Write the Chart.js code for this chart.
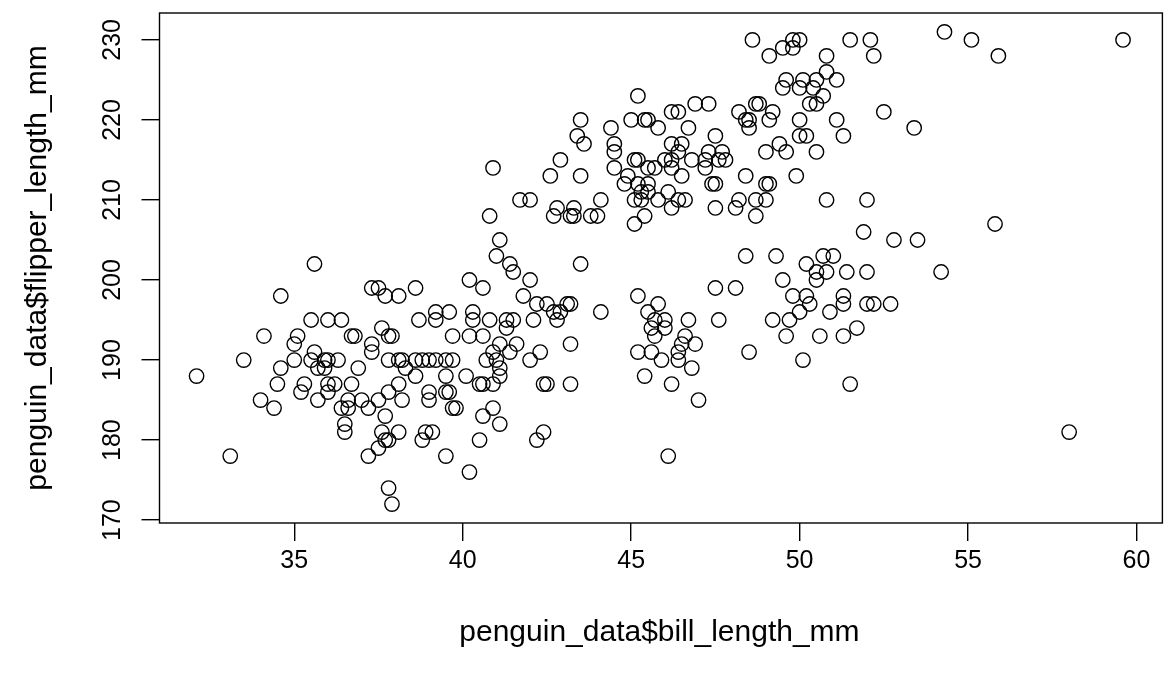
<!DOCTYPE html>
<html>
<head>
<meta charset="utf-8">
<script src="https://cdn.jsdelivr.net/npm/chart.js@4"></script>
<style>
  html, body { margin: 0; padding: 0; background: #fff; }
  #wrap { width: 1168px; height: 675px; }
</style>
</head>
<body>
<div id="wrap"><canvas id="myChart" width="1168" height="675"></canvas></div>
<script>
// values (bill length mm, flipper length mm)
var billLength = [
  35.6,34.6,35.5,34.1,35.1,35.0,33.5,35.0,35.5,34.6,32.1,34.5,35.3,35.2,34.0,34.4,33.1,
  37.3,37.5,37.7,38.1,38.6,36.0,36.4,37.6,36.7,36.8,37.8,37.9,37.3,38.7,39.2,39.6,39.2,39.7,35.6,37.3,
  35.9,36.0,36.3,37.8,38.1,38.2,38.6,38.8,39.0,39.2,39.5,39.7,
  35.7,35.9,36.9,38.3,38.6,39.5,36.0,36.2,36.7,38.1,36.0,37.8,39.0,39.5,39.6,35.7,36.6,37.0,38.2,39.0,37.5,
  36.4,36.6,37.2,39.7,39.8,37.7,36.5,36.5,37.6,38.1,38.9,39.1,37.7,37.8,38.8,37.5,37.2,39.5,37.8,37.9,
  41.0,41.4,41.5,43.5,40.2,40.6,42.0,41.8,42.2,42.5,43.1,43.2,42.7,42.9,42.8,44.1,40.3,40.3,40.8,41.3,41.5,41.3,42.1,
  40.2,40.6,41.1,41.6,40.9,42.3,41.4,43.2,40.7,42.0,41.1,41.0,41.1,40.1,40.5,40.6,40.9,42.4,42.5,43.2,
  40.9,40.6,41.1,42.4,42.2,40.5,40.2,
  48.4,49.3,49.5,47.5,48.1,45.2,45.8,45.5,45.7,46.0,45.6,46.0,45.7,46.7,47.6,49.2,49.7,49.6,46.6,46.5,46.9,
  46.4,45.2,45.6,46.4,45.9,48.5,46.8,45.4,46.2,47.0,46.1,
  52.8,53.5,50.7,51.0,50.2,50.5,50.8,51.4,52.0,54.2,50.5,49.8,50.2,51.3,50.3,51.3,52.0,52.2,52.7,50.0,50.9,
  51.7,50.6,51.3,50.1,51.5,58.0,
  45.2,43.5,45.0,45.4,44.4,43.4,43.6,44.5,44.5,42.9,40.9,42.6,43.5,44.5,45.1,45.2,44.9,44.8,45.2,41.7,42.0,
  44.1,45.1,45.3,42.8,43.3,42.7,43.2,43.3,43.8,44.0,40.8,45.1,41.1,45.4,
  48.6,49.8,50.0,49.5,49.8,51.5,49.1,50.8,50.8,49.6,50.1,50.5,51.1,49.5,50.0,50.4,50.7,50.3,50.5,46.9,47.3,
  46.2,46.4,45.5,45.8,46.7,48.2,48.7,48.8,49.2,48.4,48.5,49.1,48.5,50.0,51.1,50.0,50.2,51.3,47.5,46.2,46.5,
  49.0,49.4,49.6,50.5,46.4,46.0,46.2,46.8,47.2,47.3,47.7,47.6,47.8,45.5,45.7,46.2,47.2,46.5,48.4,49.9,47.4,
  47.5,49.0,49.1,45.5,45.3,45.5,46.1,45.8,46.2,46.4,46.6,47.5,48.2,48.1,48.7,49.0,48.7,50.8,
  52.1,52.2,54.3,55.1,55.9,59.6,52.5,53.4,52.0,51.9,55.8
];
var flipperLength = [
  202,198,195,193,193,192,190,190,190,189,188,187,187,186,185,184,178,
  199,199,198,198,199,195,195,194,193,193,193,193,192,195,196,196,195,193,191,191,
  190,190,190,190,190,190,190,190,190,190,190,190,
  189,189,189,189,188,188,187,187,187,187,186,186,186,186,186,185,185,185,185,185,185,
  184,184,184,184,184,183,182,181,181,181,181,181,180,180,180,179,178,178,174,172,
  203,202,201,202,200,199,200,198,197,197,197,197,196,196,195,196,196,195,195,195,195,194,195,
  193,193,192,192,191,191,191,192,190,190,189,190,188,188,187,187,187,187,187,187,
  184,183,182,181,180,180,176,
  203,203,200,199,199,198,197,196,195,195,194,194,193,195,195,195,195,193,193,192,192,
  191,191,191,190,190,191,189,188,187,185,178,
  205,205,203,203,202,201,201,201,201,201,200,198,198,198,197,197,197,197,197,196,196,
  194,193,193,190,187,181,
  223,220,220,220,219,218,217,217,216,215,214,213,213,214,215,215,213,212,212,210,210,
  210,210,210,209,209,208,208,208,208,208,208,207,205,208,
  230,230,230,229,229,230,228,228,226,225,225,225,225,224,224,224,223,222,222,222,222,
  221,221,220,219,219,221,222,222,221,220,220,220,219,220,220,218,218,218,218,217,217,
  216,217,216,216,216,215,215,215,215,216,216,215,215,214,214,214,214,213,213,213,212,
  212,212,212,212,211,211,211,210,209,210,210,209,210,209,210,210,208,210,
  230,228,231,230,228,230,221,219,210,206,207
];
var xTicks = [35, 40, 45, 50, 55, 60];
var yTicks = [170, 180, 190, 200, 210, 220, 230];
var xTitle = 'penguin_data$bill_length_mm';
var yTitle = 'penguin_data$flipper_length_mm';

var pts = billLength.map(function(b, i){ return {x: b, y: flipperLength[i]}; });
var FONT = '"Liberation Sans", Arial, Helvetica, sans-serif';

// R style box around the plot region + rotated y tick labels
var rBox = {
  id: 'rBox',
  afterDraw: function(chart){
    var ctx = chart.ctx, a = chart.chartArea, ys = chart.scales.y;
    ctx.save();
    ctx.strokeStyle = '#000';
    ctx.lineWidth = 1.4;
    ctx.strokeRect(a.left, a.top, a.right - a.left + 3, a.bottom - a.top);
    ctx.fillStyle = '#000';
    ctx.font = '25px ' + FONT;
    ctx.textAlign = 'center';
    ctx.textBaseline = 'alphabetic';
    ys.ticks.forEach(function(t){
      var py = ys.getPixelForValue(t.value);
      ctx.save();
      ctx.translate(a.left - 40, py);
      ctx.rotate(-Math.PI / 2);
      ctx.fillText(String(t.value), 0, 0);
      ctx.restore();
    });
    ctx.restore();
  }
};

new Chart(document.getElementById('myChart'), {
  type: 'scatter',
  data: {
    datasets: [{
      data: pts,
      pointStyle: 'circle',
      pointRadius: 7.2,
      pointHoverRadius: 7.2,
      borderWidth: 1.4,
      borderColor: '#000',
      backgroundColor: 'rgba(0,0,0,0)'
    }]
  },
  options: {
    responsive: false,
    animation: false,
    events: [],
    layout: { padding: { left: 0, top: 13, right: 0, bottom: 0 } },
    plugins: { legend: { display: false }, tooltip: { enabled: false } },
    scales: {
      x: {
        type: 'linear',
        min: 31.0,
        max: 31.0 + (1168 - 159.5) / 33.98,
        afterBuildTicks: function(s){ s.ticks = xTicks.map(function(v){ return {value: v}; }); },
        afterFit: function(s){ s.height = 675 - 523; },
        grid: { display: true, drawOnChartArea: false, drawTicks: true, tickLength: 18, color: '#000', lineWidth: 1.4 },
        border: { display: false },
        ticks: { color: '#000', font: { family: FONT, size: 25 }, padding: 5, maxRotation: 0, minRotation: 0 },
        title: { display: true, text: xTitle, color: '#000', font: { family: FONT, size: 30 }, padding: { top: 0, bottom: 24 } }
      },
      y: {
        type: 'linear',
        min: 169.64,
        max: 233.36,
        afterBuildTicks: function(s){ s.ticks = yTicks.map(function(v){ return {value: v}; }); },
        afterFit: function(s){ s.width = 159.5; },
        grid: { display: true, drawOnChartArea: false, drawTicks: true, tickLength: 18, color: '#000', lineWidth: 1.4 },
        border: { display: false },
        ticks: { display: false },
        title: { display: true, text: yTitle, color: '#000', font: { family: FONT, size: 30 }, padding: { top: 20, bottom: 0 } }
      }
    }
  },
  plugins: [rBox]
});
</script>
</body>
</html>
